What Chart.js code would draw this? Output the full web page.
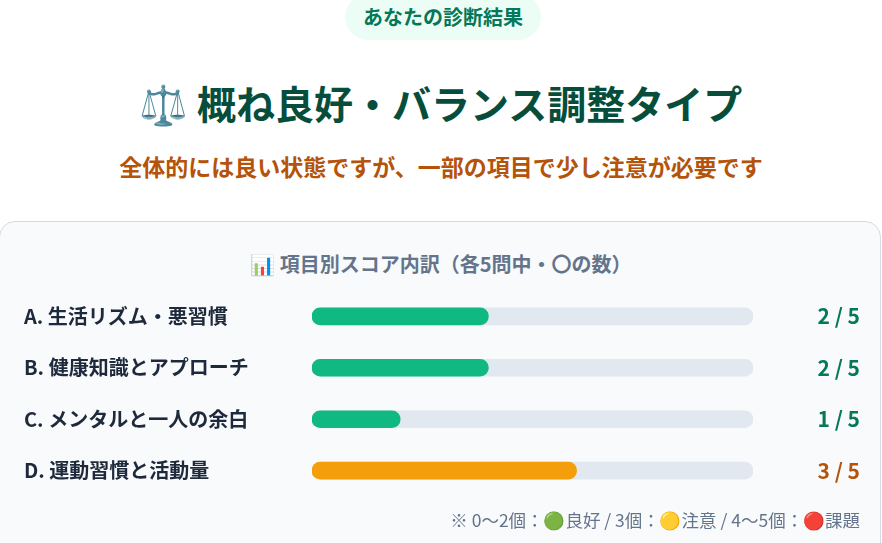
<!DOCTYPE html>
<html lang="ja">
<head>
<meta charset="utf-8">
<script src="https://cdn.jsdelivr.net/npm/chart.js@4/dist/chart.umd.min.js"></script>
<style>
  body { margin: 0; width: 882px; height: 543px; overflow: hidden; background: #fff;
         font-family: "Noto Sans CJK JP", "Noto Color Emoji", sans-serif; position: relative; }
  .badge { position: absolute; left: 345px; top: -6px; width: 196px; height: 46px; border-radius: 23px;
           background: #ecfdf5; color: #047857; font-weight: 700; font-size: 20px; line-height: 46px; text-align: center; }
  .title { position: absolute; left: 0; right: 0; top: 78px; height: 48px; line-height: 48px; text-align: center;
           color: #064e3b; font-weight: 700; font-size: 39px; }
  .sub { position: absolute; left: 0; right: 0; top: 151px; height: 30px; line-height: 30px; text-align: center;
         color: #b45309; font-weight: 700; font-size: 23px; }
  .card { position: absolute; left: -1px; top: 221px; width: 882px; height: 340px; box-sizing: border-box;
          border: 1px solid #d5dbe3; border-radius: 16px; background: #f8fafc; }
  .cardTitle { position: absolute; left: 0; right: 0; top: 251px; height: 26px; line-height: 26px; text-align: center;
               color: #64748b; font-weight: 700; font-size: 20px; }
  #wrap { position: absolute; left: 24px; top: 278px; width: 836px; height: 231px; }
  .note { position: absolute; right: 22px; top: 508px; height: 24px; line-height: 24px; color: #64748b; font-size: 17.5px; }
</style>
</head>
<body>
<div class="badge">あなたの診断結果</div>
<div class="title">⚖️ 概ね良好・バランス調整タイプ</div>
<div class="sub">全体的には良い状態ですが、一部の項目で少し注意が必要です</div>
<div class="card"></div>
<div class="cardTitle">📊 項目別スコア内訳（各5問中・〇の数）</div>
<div id="wrap"><canvas id="scoreChart"></canvas></div>
<div class="note">※ 0〜2個：🟢良好 / 3個：🟡注意 / 4〜5個：🔴課題</div>

<script>
const categories = ["A. 生活リズム・悪習慣", "B. 健康知識とアプローチ", "C. メンタルと一人の余白", "D. 運動習慣と活動量"];
const scores = [2, 2, 1, 3];
const maxScore = [5, 5, 5, 5];

const scoreLabels = scores.map((s, i) => `${s} / ${maxScore[i]}`);

function barColor(v) {
  if (v >= 4) return "#ef4444";
  if (v === 3) return "#f59e0b";
  return "#10b981";
}
function textColor(v) {
  if (v >= 4) return "#b91c1c";
  if (v === 3) return "#b45309";
  return "#047857";
}

const labelFont = { family: "Noto Sans CJK JP", size: 20, weight: "bold" };
const scoreFont = { family: "Noto Sans CJK JP", size: 21, weight: "bold" };

new Chart(document.getElementById("scoreChart"), {
  type: "bar",
  data: {
    labels: categories,
    datasets: [
      {
        label: "スコア",
        data: scores,
        backgroundColor: scores.map(barColor),
        barThickness: 17,
        borderRadius: 9,
        borderSkipped: false,
        grouped: false,
        order: 0
      },
      {
        label: "満点",
        data: maxScore,
        backgroundColor: "#e2e8f0",
        barThickness: 17,
        borderRadius: 9,
        borderSkipped: false,
        grouped: false,
        order: 1
      }
    ]
  },
  options: {
    indexAxis: "y",
    responsive: true,
    maintainAspectRatio: false,
    animation: false,
    layout: { padding: 0 },
    plugins: { legend: { display: false }, tooltip: { enabled: false } },
    scales: {
      x: { min: 0, max: 5, display: false },
      y: {
        position: "left",
        grid: { display: false },
        border: { display: false },
        ticks: { crossAlign: "far", color: "#1e293b", font: labelFont, padding: 0 },
        afterFit: (axis) => { axis.width = 288; }
      },
      y2: {
        type: "category",
        labels: scoreLabels,
        position: "right",
        grid: { display: false },
        border: { display: false },
        ticks: {
          crossAlign: "far",
          padding: 0,
          font: scoreFont,
          color: (ctx) => textColor(scores[ctx.index])
        },
        afterFit: (axis) => { axis.width = 107; }
      }
    }
  }
});
</script>
</body>
</html>
